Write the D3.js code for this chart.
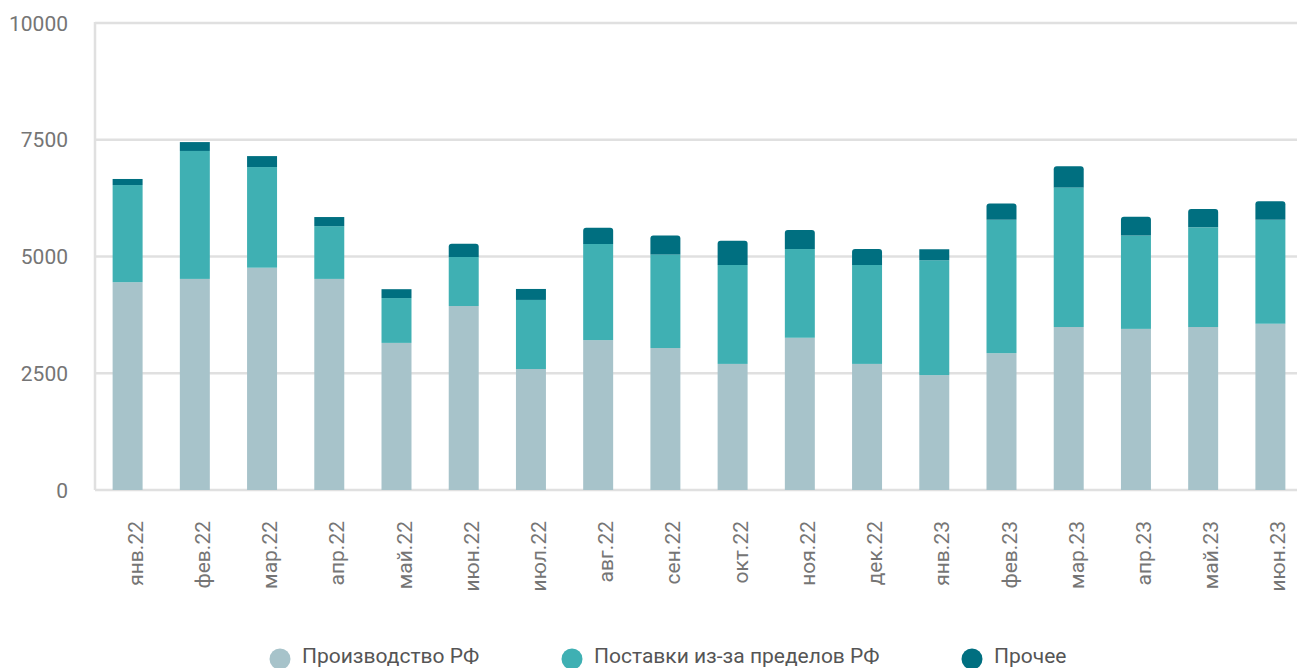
<!DOCTYPE html>
<html>
<head>
<meta charset="utf-8">
<script src="https://cdn.jsdelivr.net/npm/d3@7/dist/d3.min.js"></script>
<style>
    html, body { margin: 0; padding: 0; background: #fff; }
    svg text { font-family: Roboto, "Noto Sans", sans-serif; fill: #757575; }
</style>
</head>
<body>
<svg id="viz" width="1297" height="668"></svg>
<script>
var months = ["янв.22", "фев.22", "мар.22", "апр.22", "май.22", "июн.22", "июл.22", "авг.22", "сен.22",
    "окт.22", "ноя.22", "дек.22", "янв.23", "фев.23", "мар.23", "апр.23", "май.23", "июн.23"];

// values
var production = [4450, 4520, 4760, 4520, 3150, 3940, 2590, 3210, 3040, 2700, 3260, 2700, 2460, 2930, 3490, 3450, 3490, 3560];
var imports = [2080, 2740, 2155, 1130, 960, 1050, 1480, 2060, 2005, 2120, 1900, 2120, 2460, 2855, 2990, 2000, 2135, 2225];
var other = [130, 190, 235, 195, 190, 285, 235, 345, 405, 515, 405, 340, 235, 350, 455, 400, 390, 400];

var seriesNames = ["Производство РФ", "Поставки из-за пределов РФ", "Прочее"];
var yTicks = [0, 2500, 5000, 7500, 10000];

window.addEventListener("load", run);

function run() {
    var svg = d3.select("#viz");
    var colors = ["#a7c3ca", "#3fb0b3", "#006f80"];
    var grid = "#e0e0e0";

    var data = months.map(function (m, i) {
        return { month: m, production: production[i], imports: imports[i], other: other[i] };
    });
    var stack = d3.stack().keys(["production", "imports", "other"])(data);

    var x = d3.scaleBand()
        .domain(months)
        .range([94, 1304])
        .paddingInner(0.554)
        .paddingOuter(0.277);
    var y = d3.scaleLinear().domain([0, 10000]).range([490, 23]);

    // gridlines
    svg.append("g").selectAll("line").data(yTicks).enter()
        .append("line")
        .attr("x1", 95)
        .attr("x2", 1297)
        .attr("y1", function (d) { return y(d); })
        .attr("y2", function (d) { return y(d); })
        .style("stroke", grid)
        .style("stroke-width", "2.5px");

    svg.append("line")
        .attr("x1", 95).attr("x2", 95)
        .attr("y1", y(10000) - 1).attr("y2", y(0))
        .style("stroke", grid)
        .style("stroke-width", "2.5px");

    // y labels
    svg.append("g").selectAll("text").data(yTicks).enter()
        .append("text")
        .attr("x", 68)
        .attr("y", function (d) { return y(d); })
        .attr("dy", "0.36em")
        .style("text-anchor", "end")
        .style("font-size", "21px")
        .text(function (d) { return d; });

    // bars
    var bw = x.bandwidth();
    stack.forEach(function (layer, k) {
        var g = svg.append("g").style("fill", colors[k]);
        layer.forEach(function (d, i) {
            var x0 = x(months[i]);
            var top = y(d[1]);
            var bottom = y(d[0]);
            var h = bottom - top;
            if (k === 2 && h > 12) {
                // rounded top corners for the last segment
                var r = 3;
                g.append("path").attr("d",
                    "M" + x0 + "," + bottom +
                    "V" + (top + r) +
                    "Q" + x0 + "," + top + " " + (x0 + r) + "," + top +
                    "H" + (x0 + bw - r) +
                    "Q" + (x0 + bw) + "," + top + " " + (x0 + bw) + "," + (top + r) +
                    "V" + bottom + "Z");
            } else {
                g.append("rect")
                    .attr("x", x0)
                    .attr("y", top)
                    .attr("width", bw)
                    .attr("height", h);
            }
        });
    });

    // month labels, rotated
    svg.append("g").selectAll("text").data(months).enter()
        .append("text")
        .attr("transform", function (d) {
            return "translate(" + (x(d) + bw / 2 + 15) + ",521) rotate(-90)";
        })
        .style("text-anchor", "end")
        .style("font-size", "21px")
        .text(function (d) { return d; });

    // legend
    var legendX = [280, 572, 972];
    seriesNames.forEach(function (name, i) {
        svg.append("circle")
            .attr("cx", legendX[i])
            .attr("cy", 659)
            .attr("r", 10.5)
            .style("fill", colors[i]);
        svg.append("text")
            .attr("x", legendX[i] + 22)
            .attr("y", 663)
            .style("font-size", "21px")
            .style("fill", "#555")
            .text(name);
    });
}
</script>
</body>
</html>
